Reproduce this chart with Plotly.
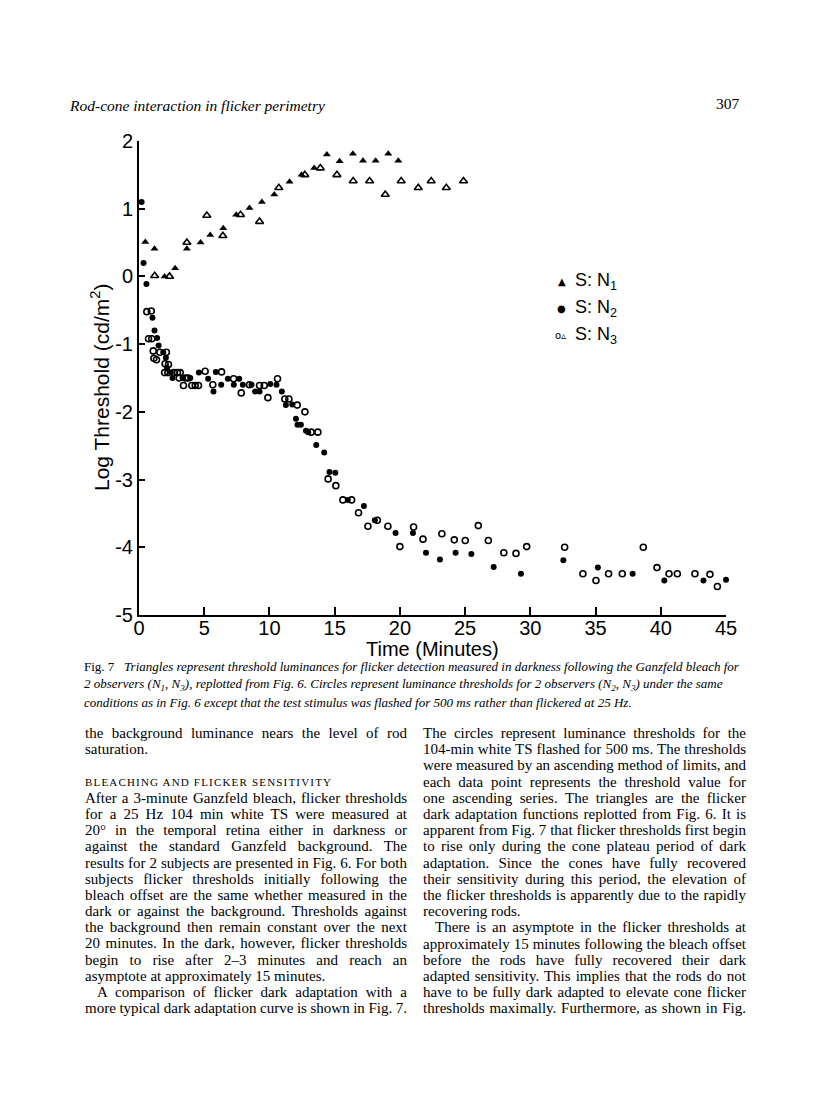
import plotly.graph_objects as go

# flicker thresholds (triangles), time in minutes / log threshold
n1_tri_t = [0.48, 1.19, 1.96, 2.77, 3.67, 4.72, 5.46, 6.46, 7.45, 8.47, 9.42, 10.37,
            11.54, 12.46, 13.43, 14.4, 15.38, 16.4, 17.17, 18.14, 19.11, 19.88]
n1_tri_v = [0.51, 0.41, 0.0, 0.12, 0.41, 0.50, 0.61, 0.71, 0.91, 1.01, 1.10, 1.21,
            1.40, 1.50, 1.60, 1.80, 1.70, 1.81, 1.71, 1.71, 1.81, 1.71]
n3_tri_t = [1.2, 2.34, 3.67, 5.2, 6.43, 7.78, 9.24, 10.72, 12.71, 13.9, 15.17, 16.42,
            17.68, 18.88, 20.1, 21.41, 22.4, 23.56, 24.88]
n3_tri_v = [0.01, 0.0, 0.50, 0.90, 0.60, 0.91, 0.81, 1.31, 1.50, 1.60, 1.50, 1.41,
            1.41, 1.21, 1.41, 1.31, 1.41, 1.31, 1.41]

# flashed thresholds (circles)
n2_circ_t = [0.2, 0.35, 0.57, 1.03, 1.19, 1.39, 1.5, 1.86, 2.06, 2.14, 2.44, 2.57,
             3.34, 3.93, 4.59, 5.3, 5.71, 5.89, 6.3, 6.81, 7.27, 7.68, 7.96, 8.63,
             8.9, 9.24, 10.06, 10.54, 10.95, 11.26, 11.75, 12.03, 12.15, 12.41, 12.8,
             12.97, 13.59, 14.2, 14.6, 15.05, 16.01, 17.24, 18.08, 19.67, 21.0, 22.0,
             23.07, 24.27, 25.48, 27.19, 29.28, 32.53, 35.18, 37.84, 40.27, 43.27, 45.0]
n2_circ_v = [1.10, 0.20, -0.11, -0.61, -0.80, -0.91, -1.02, -1.12, -1.20, -1.35, -1.42, -1.50,
             -1.50, -1.50, -1.42, -1.51, -1.70, -1.41, -1.60, -1.51, -1.60, -1.51, -1.60, -1.60,
             -1.70, -1.70, -1.59, -1.60, -1.70, -1.90, -1.89, -2.10, -2.19, -2.19, -2.28,
             -2.30, -2.49, -2.60, -2.89, -2.90, -3.30, -3.39, -3.60, -3.79, -3.79, -4.08,
             -4.18, -4.08, -4.10, -4.29, -4.39, -4.19, -4.30, -4.39, -4.49, -4.49, -4.48]
n3_circ_t = [0.6, 0.94, 0.73, 0.98, 1.09, 1.6, 2.1, 1.14, 1.34, 2.0, 2.26, 1.96, 2.21,
             2.7, 2.95, 3.16, 3.08, 3.57, 3.77, 3.41, 5.07, 4.05, 4.31, 4.56, 5.66, 6.33,
             7.25, 7.84, 8.47, 9.24, 9.6, 9.88, 10.62, 11.18, 11.49, 12.13, 12.72, 13.2,
             13.71, 14.5, 15.09, 15.63, 16.3, 16.83, 18.27, 17.55, 19.08, 20.0, 21.05,
             21.77, 23.22, 24.17, 25.01, 26.01, 26.78, 27.97, 28.9, 29.72, 32.63, 34.03,
             35.03, 36.0, 37.05, 38.66, 39.71, 40.63, 41.27, 42.62, 43.77, 44.34, 45.2]
n3_circ_v = [-0.52, -0.51, -0.92, -0.92, -1.10, -1.12, -1.12, -1.21, -1.23, -1.29, -1.30, -1.42, -1.42,
             -1.42, -1.42, -1.42, -1.50, -1.50, -1.50, -1.61, -1.40, -1.61, -1.61, -1.61, -1.60, -1.41,
             -1.51, -1.72, -1.60, -1.61, -1.61, -1.79, -1.51, -1.81, -1.81, -1.90, -2.0, -2.30,
             -2.30, -2.99, -3.09, -3.30, -3.30, -3.49, -3.60, -3.69, -3.69, -3.99, -3.70,
             -3.88, -3.80, -3.89, -3.90, -3.68, -3.90, -4.08, -4.09, -3.99, -4.0, -4.39,
             -4.49, -4.39, -4.39, -4.0, -4.30, -4.39, -4.39, -4.39, -4.40, -4.58, -4.48]

x_ticks = [0, 5, 10, 15, 20, 25, 30, 35, 40, 45]
y_ticks = [2, 1, 0, -1, -2, -3, -4, -5]
y_labels = ["2", "1", "0", "-1", "-2", "-3", "-4", "-5"]

caption = [
    "Fig. 7   <i>Triangles represent threshold luminances for flicker detection measured in darkness following the Ganzfeld bleach for</i>",
    "<i>2 observers (N<sub>1</sub>, N<sub>3</sub>), replotted from Fig. 6. Circles represent luminance thresholds for 2 observers (N<sub>2</sub>, N<sub>3</sub>) under the same</i>",
    "<i>conditions as in Fig. 6 except that the test stimulus was flashed for 500 ms rather than flickered at 25 Hz.</i>",
]
left_col = [
    ("the background luminance nears the level of rod", True),
    ("saturation.", False),
    ("BLEACHING AND FLICKER SENSITIVITY", "track"),
    ("After a 3-minute Ganzfeld bleach, flicker thresholds", True),
    ("for a 25 Hz 104 min white TS were measured at", True),
    ("20° in the temporal retina either in darkness or", True),
    ("against the standard Ganzfeld background. The", True),
    ("results for 2 subjects are presented in Fig. 6. For both", True),
    ("subjects flicker thresholds initially following the", True),
    ("bleach offset are the same whether measured in the", True),
    ("dark or against the background. Thresholds against", True),
    ("the background then remain constant over the next", True),
    ("20 minutes. In the dark, however, flicker thresholds", True),
    ("begin to rise after 2–3 minutes and reach an", True),
    ("asymptote at approximately 15 minutes.", False),
    ("A comparison of flicker dark adaptation with a", "indent"),
    ("more typical dark adaptation curve is shown in Fig. 7.", True),
]
right_col = [
    ("The circles represent luminance thresholds for the", True),
    ("104-min white TS flashed for 500 ms. The thresholds", True),
    ("were measured by an ascending method of limits, and", True),
    ("each data point represents the threshold value for", True),
    ("one ascending series. The triangles are the flicker", True),
    ("dark adaptation functions replotted from Fig. 6. It is", True),
    ("apparent from Fig. 7 that flicker thresholds first begin", True),
    ("to rise only during the cone plateau period of dark", True),
    ("adaptation. Since the cones have fully recovered", True),
    ("their sensitivity during this period, the elevation of", True),
    ("the flicker thresholds is apparently due to the rapidly", True),
    ("recovering rods.", False),
    ("There is an asymptote in the flicker thresholds at", "indent"),
    ("approximately 15 minutes following the bleach offset", True),
    ("before the rods have fully recovered their dark", True),
    ("adapted sensitivity. This implies that the rods do not", True),
    ("have to be fully dark adapted to elevate cone flicker", True),
    ("thresholds maximally. Furthermore, as shown in Fig.", True),
]

# page geometry (pixels) -> paper coordinates
L, R, T, B = 131, 718, 133, 607


def px(p):
    return (p - L) / (R - L)


def py(p):
    return (B - p) / (B - T)


SANS = "Liberation Sans, Arial, sans-serif"
SERIF = "Liberation Serif, Times New Roman, serif"

fig = go.Figure()
fig.add_trace(go.Scatter(x=n3_circ_t, y=n3_circ_v, mode="markers", cliponaxis=False,
                         marker=dict(symbol="circle-open", size=6, color="black", line=dict(width=1.6))))
fig.add_trace(go.Scatter(x=n2_circ_t, y=n2_circ_v, mode="markers", cliponaxis=False,
                         marker=dict(symbol="circle", size=6, color="black")))
fig.add_trace(go.Scatter(x=n3_tri_t, y=n3_tri_v, mode="markers", cliponaxis=False,
                         marker=dict(symbol="triangle-up-open", size=7, color="black", line=dict(width=1.6))))
fig.add_trace(go.Scatter(x=n1_tri_t, y=n1_tri_v, mode="markers", cliponaxis=False,
                         marker=dict(symbol="triangle-up", size=7, color="black")))

ann = []


def text_at(x, y, text, size, family, xanchor="left", **kw):
    ann.append(dict(x=px(x), y=py(y), xref="paper", yref="paper", text=text,
                    xanchor=xanchor, yanchor="middle", showarrow=False, borderpad=0,
                    align="left" if xanchor == "left" else ("right" if xanchor == "right" else "center"),
                    font=dict(size=size, family=family, color="black"), **kw))


# legend
for yy, sym, lab in [(273, "▲", "S: N<sub>1</sub>"), (300, "●", "S: N<sub>2</sub>"),
                     (327, "o▵", "S: N<sub>3</sub>")]:
    text_at(559, yy, sym, 10, "DejaVu Sans", xanchor="right")
    text_at(566, yy, lab, 18, SANS)

# axis titles
text_at(92, 380, "Log Threshold (cd/m<sup>2</sup>)", 21, SANS, xanchor="center", textangle=-90)
text_at(424, 641, "Time (Minutes)", 20, SANS, xanchor="center")

# running head
text_at(60, 97, "<i>Rod-cone interaction in flicker perimetry</i>", 15.5, SERIF)
text_at(733, 96, "307", 15.5, SERIF, xanchor="right")

for i, line in enumerate(caption):
    text_at(75, 658 + 18 * i, line, 13, SERIF)


def body(lines, x0, x1, ys):
    for (txt, mode), yy in zip(lines, ys):
        size = 15
        xs = x0
        name = None
        if mode is True:
            name = "justify:%d" % (x1 - x0)
        elif mode == "indent":
            xs = x0 + 12
            name = "justify:%d" % (x1 - xs)
        elif mode == "track":
            size = 11
            name = "track:%d" % 246
        text_at(xs, yy, txt, size, SERIF, name=name)


left_y = [725, 741, 774] + [790 + 16.15 * k for k in range(14)]
right_y = [725 + 16.2 * k for k in range(18)]
body(left_col, 76, 398, left_y)
body(right_col, 414, 737, right_y)

fig.update_layout(
    width=816, height=1112,
    margin=dict(l=L, r=816 - R, t=T, b=1112 - B),
    paper_bgcolor="white", plot_bgcolor="white",
    font=dict(color="black", family=SANS),
    showlegend=False,
    annotations=ann,
    xaxis=dict(range=[0, 45], tickvals=x_ticks, ticks="inside", ticklen=8, tickwidth=1.5,
               showline=True, linewidth=2, linecolor="black", tickcolor="black",
               showgrid=False, zeroline=False, ticklabelstandoff=-6,
               tickfont=dict(size=20, family=SANS, color="black")),
    yaxis=dict(range=[-5, 2], tickvals=y_ticks, ticktext=y_labels, ticks="inside", ticklen=6,
               tickwidth=1.5, showline=True, linewidth=2, linecolor="black", tickcolor="black",
               showgrid=False, zeroline=False,
               tickfont=dict(size=20, family=SANS, color="black")),
)

justify_js = """
var gd = document.getElementById('{plot_id}');
function fixText() {
  var anns = gd.layout.annotations || [];
  anns.forEach(function (a, i) {
    if (!a.name) return;
    var parts = a.name.split(':');
    var w = parseFloat(parts[1]);
    var t = gd.querySelector('g.annotation[data-index="' + i + '"] text.annotation-text');
    if (!t) return;
    var cur = t.getComputedTextLength();
    if (parts[0] === 'justify') {
      var n = (t.textContent.match(/ /g) || []).length;
      if (n) t.style.wordSpacing = ((w - cur) / n) + 'px';
    } else if (parts[0] === 'track') {
      var c = t.textContent.length - 1;
      if (c > 0) t.style.letterSpacing = ((w - cur) / c) + 'px';
    }
  });
}
fixText();
"""

fig.write_html("out.html", post_script=justify_js)
